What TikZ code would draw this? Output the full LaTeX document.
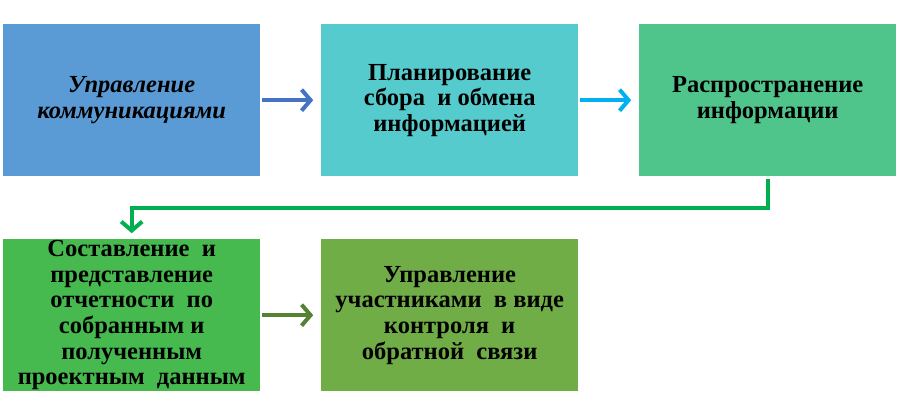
\documentclass[tikz,border=0pt]{standalone}
\usepackage{fontspec}
\setmainfont{Liberation Serif}
\usetikzlibrary{matrix,positioning,arrows.meta}

\definecolor{boxblue}{HTML}{5B9BD5}
\definecolor{boxteal}{HTML}{55CBCD}
\definecolor{boxmint}{HTML}{4FC58C}
\definecolor{boxgreen}{HTML}{46BA4F}
\definecolor{boxolive}{HTML}{70AD47}
\definecolor{arrblue}{HTML}{4472C4}
\definecolor{arrcyan}{HTML}{00B0F0}
\definecolor{arrgreen}{HTML}{00B050}
\definecolor{arrolive}{HTML}{548235}

\begin{document}
\begin{tikzpicture}[
     x=1pt, y=1pt,
     % define styles
     stage/.style={
         draw=none,
         anchor=center,
         minimum width=257pt,
         minimum height=152pt,
         inner sep=0pt,
         outer sep=0pt,
         font=\fontsize{24.5}{25.6}\selectfont\bfseries
     },
     flow/.style={
         matrix of nodes,
         nodes={stage},
         inner sep=0pt,
         column sep=61pt,
         row sep=63pt
     },
     link/.style={
         line width=4pt,
         -{Straight Barb[length=9pt,width=21pt,line width=4pt]},
         shorten <=2pt,
         shorten >=8pt
     }
]
\useasboundingbox (0,0) rectangle (900,414);
% define matrix mat to hold the stages
\matrix[flow, anchor=north west] (mat) at (3,390)
{
|[fill=boxblue]| \parbox{257pt}{\centering\itshape Управление\\коммуникациями}
    & |[fill=boxteal]| \parbox{257pt}{\centering Планирование\\сбора~ и обмена\\информацией}
    & |[fill=boxmint]| \parbox{257pt}{\centering Распространение\\информации} \\
|[fill=boxgreen]| \parbox{257pt}{\centering Составление~ и\\представление\\отчетности~ по\\собранным и\\полученным\\проектным~ данным}
    & |[fill=boxolive]| \parbox{257pt}{\centering Управление\\участниками~ в виде\\контроля~ и\\обратной~ связи}
    & \\
};
% arrows along the first row
\draw[link, arrblue] (mat-1-1) -- (mat-1-2);
\draw[link, arrcyan] (mat-1-2) -- (mat-1-3);
% turn down into the second row
\draw[link, arrgreen, shorten <=3pt, shorten >=6pt]
    (mat-1-3.south) -- ++(0,-32) -| (mat-2-1.north);
% arrow along the second row
\draw[link, arrolive] (mat-2-1) -- (mat-2-2);
\end{tikzpicture}
\end{document}
